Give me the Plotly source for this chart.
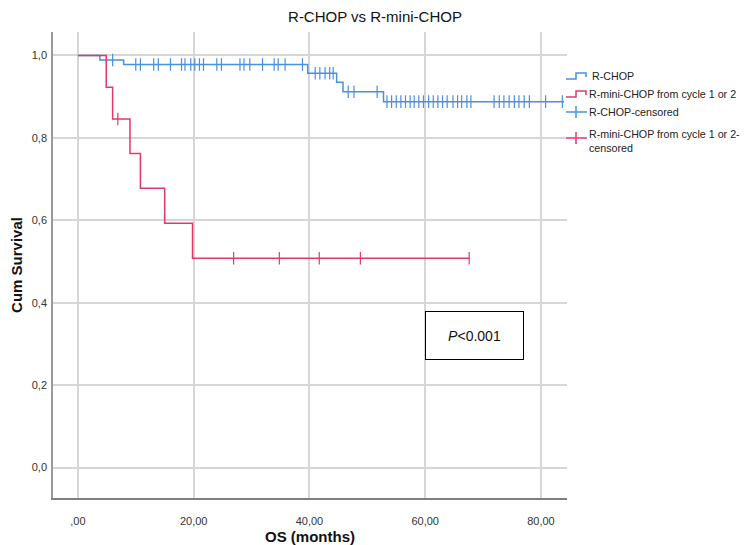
import numpy as np
import plotly.graph_objects as go

# ---------------- data ----------------
rchop_time = [0, 3.8, 7.9, 39.7, 44.7, 45.8, 52.8, 84.0]
rchop_surv = [1.0, 0.989, 0.978, 0.957, 0.935, 0.912, 0.888, 0.888]
rchop_censor_time = [6.0, 10.0, 10.8, 13.1, 13.9, 16.0, 17.9, 18.5, 19.5, 20.2, 21.0, 21.7,
                     24.0, 24.8, 28.0, 28.7, 29.7, 31.9, 33.9, 34.6, 35.8, 38.8,
                     41.0, 41.8, 42.7, 43.5, 44.1, 46.7, 47.7, 51.7,
                     53.4, 54.2, 55.0, 55.8, 56.6, 57.4, 58.1, 58.9, 59.7, 60.6, 61.4, 62.2,
                     63.0, 63.8, 64.8, 65.6, 66.3, 67.2, 67.9,
                     71.9, 72.8, 73.6, 74.5, 75.4, 76.2, 77.1, 78.0, 80.8, 83.7]

mini_time = [0, 4.9, 6.0, 9.0, 10.8, 15.0, 19.8, 67.6]
mini_surv = [1.0, 0.923, 0.846, 0.762, 0.678, 0.593, 0.508, 0.508]
mini_censor_time = [6.9, 26.9, 34.8, 41.7, 48.8, 67.6]

x_tickvals = [0, 20, 40, 60, 80]
x_ticktext = [",00", "20,00", "40,00", "60,00", "80,00"]
y_tickvals = [0.0, 0.2, 0.4, 0.6, 0.8, 1.0]
y_ticktext = ["0,0", "0,2", "0,4", "0,6", "0,8", "1,0"]

legend_labels = ["R-CHOP", "R-mini-CHOP from cycle 1 or 2", "R-CHOP-censored",
                 "R-mini-CHOP from cycle 1 or 2-<br>censored"]

title_text = "R-CHOP vs R-mini-CHOP"
p_text = "<i>P</i><0.001"

BLUE = "#4a8fe0"
RED = "#de3a66"
FONT = "Liberation Sans, Arial, sans-serif"


def surv_at(times, surv, t):
    idx = np.searchsorted(np.asarray(times), t, side="right") - 1
    return [surv[i] for i in idx]


fig = go.Figure()

fig.add_trace(go.Scatter(x=rchop_time, y=rchop_surv, mode="lines", line_shape="hv",
                         line=dict(color=BLUE, width=1.5), name=legend_labels[0],
                         showlegend=False, hoverinfo="skip"))
fig.add_trace(go.Scatter(x=mini_time, y=mini_surv, mode="lines", line_shape="hv",
                         line=dict(color=RED, width=1.5), name=legend_labels[1],
                         showlegend=False, hoverinfo="skip"))
fig.add_trace(go.Scatter(x=rchop_censor_time,
                         y=surv_at(rchop_time, rchop_surv, rchop_censor_time),
                         mode="markers", name=legend_labels[2], showlegend=False,
                         marker=dict(symbol="line-ns-open", size=9, color=BLUE,
                                     line=dict(color=BLUE, width=1.2))))
fig.add_trace(go.Scatter(x=mini_censor_time,
                         y=surv_at(mini_time, mini_surv, mini_censor_time),
                         mode="markers", name=legend_labels[3], showlegend=False,
                         marker=dict(symbol="line-ns-open", size=9, color=RED,
                                     line=dict(color=RED, width=1.2))))

# ---------------- layout ----------------
# the page body has an 8px margin, so the figure is drawn 8px smaller and
# positions below are given in window pixels and shifted by OFF
OFF = 8
W, H = 749 - OFF, 545 - OFF
ML, MR, MT, MB = 53 - OFF, 749 - 567, 32 - OFF, 545 - 498
PW, PH = W - ML - MR, H - MT - MB


def px(x):
    return (x - OFF - ML) / PW


def py(y):
    return (H - MB - (y - OFF)) / PH


shapes = []
annotations = []

# custom legend
rows = [(76, BLUE, "step"), (94, RED, "step"), (112, BLUE, "cens"), (138, RED, "cens")]
text_y = [76, 94, 112, 141]
text_x = [591, 588, 588, 588]
for (yc, col, kind), lab, ty, tx in zip(rows, legend_labels, text_y, text_x):
    if kind == "step":
        path = "M {} {} L {} {} L {} {} L {} {} L {} {}".format(
            px(566), py(yc + 3), px(576), py(yc + 3), px(576), py(yc - 3),
            px(586), py(yc - 3), px(586), py(yc + 1))
        shapes.append(dict(type="path", xref="paper", yref="paper", path=path,
                           line=dict(color=col, width=1.5)))
    else:
        shapes.append(dict(type="line", xref="paper", yref="paper",
                           x0=px(566), x1=px(587), y0=py(yc), y1=py(yc),
                           line=dict(color=col, width=1.5)))
        shapes.append(dict(type="line", xref="paper", yref="paper",
                           x0=px(576), x1=px(576), y0=py(yc - 6), y1=py(yc + 6),
                           line=dict(color=col, width=1.5)))
    annotations.append(dict(xref="paper", yref="paper", x=px(tx), y=py(ty),
                            xanchor="left", yanchor="middle", align="left",
                            text=lab, showarrow=False, borderpad=0,
                            font=dict(family=FONT, size=10.7, color="#222222")))

# p-value box
annotations.append(dict(x=68.6, y=0.320, xref="x", yref="y", text=p_text,
                        showarrow=False, width=97, height=47, borderpad=0,
                        bordercolor="#000000", borderwidth=1, bgcolor="white",
                        font=dict(family=FONT, size=14, color="#111111")))

fig.update_layout(
    width=W, height=H,
    margin=dict(l=ML, r=MR, t=MT, b=MB, autoexpand=False),
    paper_bgcolor="white", plot_bgcolor="white",
    title=dict(text=title_text, x=(375 - OFF) / W, xref="container", xanchor="center",
               y=1 - (17 - OFF) / H, yref="container", yanchor="middle",
               font=dict(family=FONT, size=15, color="#111111")),
    xaxis=dict(range=[-4.3, 84.5], tickvals=x_tickvals, ticktext=x_ticktext,
               showgrid=True, gridcolor="#d6d6d6", gridwidth=1.5, zeroline=False,
               showline=True, linecolor="#7f7f7f", linewidth=2, ticks="",
               ticklabelstandoff=12, automargin=False,
               tickfont=dict(family=FONT, size=11, color="#333333"),
               title=dict(text="<b>OS (months)</b>", standoff=5,
                          font=dict(family=FONT, size=15, color="#111111"))),
    yaxis=dict(range=[-0.074, 1.057], tickvals=y_tickvals, ticktext=y_ticktext,
               showgrid=True, gridcolor="#d6d6d6", gridwidth=1.5, zeroline=False,
               showline=True, linecolor="#9a9a9a", linewidth=1.5, ticks="",
               ticklabelstandoff=2, automargin=False,
               tickfont=dict(family=FONT, size=11, color="#333333"),
               title=dict(text="<b>Cum Survival</b>", standoff=6,
                          font=dict(family=FONT, size=15, color="#111111"))),
    shapes=shapes,
    annotations=annotations,
    showlegend=False,
)

fig.write_html("out.html")
